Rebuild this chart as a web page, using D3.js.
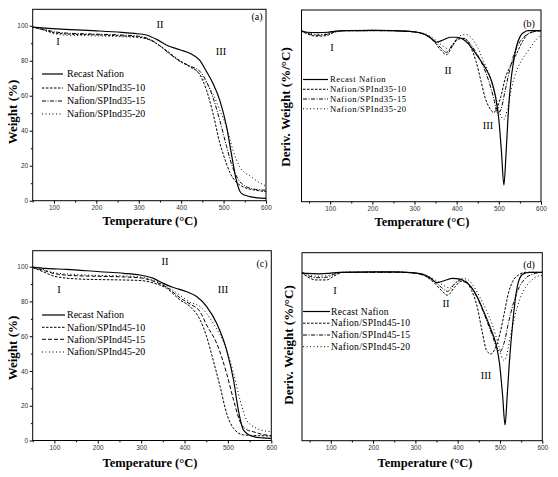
<!DOCTYPE html>
<html>
<head>
<meta charset="utf-8">
<script src="https://cdn.jsdelivr.net/npm/d3@7"></script>
<style>
  body { margin: 0; background: #fff; }
  svg { display: block; }
</style>
</head>
<body>
<script>
// ===== Dados =====
const xTicks = [100, 200, 300, 400, 500, 600];
const xMinor = [50, 150, 250, 350, 450, 550];
const wTicks = [0, 20, 40, 60, 80, 100];
const wMinor = [10, 30, 50, 70, 90];

const namesA = ["Recast Nafion", "Nafion/SPInd35-10", "Nafion/SPInd35-15", "Nafion/SPInd35-20"];
const namesC = ["Recast Nafion", "Nafion/SPInd45-10", "Nafion/SPInd45-15", "Nafion/SPInd45-20"];
const regions = ["I", "II", "III"];

// TGA, SPInd35 (temperatura, peso %)
const tgaA_recast = [[50,99.2],[80,98.6],[130,97.9],[208,97],[260,96.2],[290,95.6],[318,94.7],[342,92.2],[365,89],[397,86.3],[424,83.8],[444,80.2],[460,73.7],[475,67],[491,57.5],[507,42.3],[519,26],[530,11.8],[542,4.2],[562,2.3],[580,1.6],[600,1.3]];
const tgaA_10 = [[50,99.2],[75,97.8],[100,96],[130,95.3],[200,94.8],[250,94.3],[300,93.5],[330,91.5],[350,88.5],[370,85],[397,80],[420,76.8],[444,72],[460,63],[475,50],[491,33],[500,26],[507,21],[515,16],[522,13],[535,9.5],[550,7.5],[575,6],[600,5.2]];
const tgaA_15 = [[50,99.2],[75,98],[100,96.6],[130,95.8],[200,95.2],[250,94.8],[300,94],[330,91.8],[350,88.5],[370,84.5],[397,79.8],[420,77],[444,74],[460,68],[475,59],[491,46],[507,31],[520,20],[535,12],[550,8.5],[575,6.5],[600,6]];
const tgaA_20 = [[50,99.2],[75,97.4],[100,95.5],[130,94.6],[200,94.2],[250,93.8],[300,93.2],[330,91.5],[350,88.5],[370,84.5],[397,79.5],[420,76.5],[444,72.5],[460,67],[475,61],[491,51.8],[507,42],[522,29],[538,19.4],[550,16],[562,14.2],[580,11],[600,8.4]];

// DTG, SPInd35 (temperatura, %/°C)
const dtgB_recast = [[30,0],[45,-0.02],[70,-0.025],[95,-0.02],[115,-0.005],[150,0],[200,0.005],[250,0],[290,-0.01],[315,-0.03],[335,-0.08],[352,-0.15],[368,-0.12],[385,-0.085],[400,-0.085],[415,-0.11],[428,-0.17],[442,-0.27],[456,-0.38],[470,-0.5],[482,-0.64],[492,-0.85],[500,-1.15],[506,-1.55],[512,-2.0],[517,-1.6],[522,-1.1],[528,-0.68],[535,-0.4],[542,-0.2],[550,-0.08],[560,-0.02],[570,0],[600,0]];
const dtgB_10 = [[30,0],[45,-0.04],[65,-0.07],[90,-0.065],[110,-0.02],[130,0],[200,0.005],[250,0],[290,-0.01],[320,-0.04],[345,-0.13],[362,-0.25],[376,-0.31],[390,-0.2],[403,-0.11],[418,-0.1],[432,-0.2],[446,-0.4],[458,-0.66],[468,-0.88],[478,-1.0],[488,-1.06],[497,-0.98],[505,-0.85],[515,-0.62],[528,-0.45],[542,-0.3],[556,-0.14],[570,-0.04],[585,-0.01],[600,0]];
const dtgB_15 = [[30,0],[45,-0.03],[65,-0.06],[90,-0.05],[110,-0.015],[130,0],[250,0],[290,-0.01],[320,-0.04],[345,-0.12],[362,-0.22],[376,-0.28],[390,-0.18],[403,-0.1],[418,-0.1],[432,-0.17],[448,-0.3],[462,-0.45],[476,-0.65],[488,-0.88],[497,-1.07],[505,-1.02],[514,-0.8],[524,-0.55],[535,-0.32],[548,-0.16],[562,-0.07],[578,-0.02],[600,0]];
const dtgB_20 = [[30,0.06],[34,0],[50,-0.03],[70,-0.05],[90,-0.04],[110,-0.01],[130,0],[250,0],[290,-0.01],[325,-0.04],[350,-0.12],[368,-0.2],[382,-0.24],[396,-0.14],[410,-0.06],[422,-0.05],[436,-0.1],[450,-0.22],[464,-0.4],[478,-0.58],[492,-0.85],[503,-1.08],[512,-1.15],[520,-1.02],[530,-0.75],[542,-0.52],[556,-0.37],[572,-0.24],[588,-0.12],[600,-0.05]];

// TGA, SPInd45
const tgaC_recast = [[50,99.8],[80,99],[128,98.5],[205,97.1],[260,96.2],[297,95.2],[328,93.3],[351,90.4],[374,88],[405,85.6],[428,82.8],[451,77],[474,67.4],[497,52],[513,34.8],[524,17.5],[536,6],[559,2.2],[580,1.5],[600,1.2]];
const tgaC_10 = [[50,99.5],[75,97],[100,94.5],[150,93],[200,92.6],[250,92.4],[300,92],[330,90.5],[359,87.5],[390,80.8],[413,77],[436,69.3],[451,59.7],[466,46.3],[482,31],[497,15.6],[513,7],[536,3.2],[570,2.8],[600,2.6]];
const tgaC_15 = [[50,99.6],[80,97.5],[100,96],[150,94.8],[200,94.5],[250,94.2],[300,93.5],[330,91.5],[360,88],[390,82],[413,78.5],[436,74],[451,66.4],[474,56],[497,38.6],[513,23.3],[528,10.8],[545,6],[559,5],[580,3.5],[600,2.8]];
const tgaC_20 = [[50,99.6],[80,98],[100,96.5],[150,95.5],[200,95],[250,94.8],[300,94],[330,92],[360,88.5],[390,83.5],[413,79.5],[436,77],[466,67.4],[497,52],[513,38.6],[528,23.3],[543,11.8],[566,7],[585,5.5],[600,5.1]];

// DTG, SPInd45
const dtgD_recast = [[30,0],[45,-0.015],[70,-0.02],[95,-0.015],[120,0],[200,0.005],[250,0.005],[290,-0.005],[315,-0.02],[335,-0.07],[350,-0.135],[368,-0.11],[388,-0.08],[405,-0.09],[420,-0.13],[433,-0.2],[447,-0.33],[462,-0.52],[478,-0.74],[490,-0.93],[499,-1.2],[506,-1.6],[512,-2.0],[517,-1.62],[522,-1.19],[530,-0.67],[538,-0.28],[545,-0.1],[555,-0.02],[570,0],[600,0]];
const dtgD_10 = [[30,0],[45,-0.06],[65,-0.1],[90,-0.1],[110,-0.04],[130,0],[250,0.005],[290,-0.005],[320,-0.04],[345,-0.14],[362,-0.24],[376,-0.3],[392,-0.2],[408,-0.12],[420,-0.13],[433,-0.24],[446,-0.45],[458,-0.78],[468,-1.02],[478,-1.07],[490,-0.98],[500,-0.8],[510,-0.54],[520,-0.27],[530,-0.12],[545,-0.03],[560,0],[600,0]];
const dtgD_15 = [[30,0],[45,-0.04],[65,-0.07],[90,-0.065],[110,-0.02],[130,0],[250,0],[290,-0.005],[320,-0.04],[345,-0.12],[362,-0.2],[376,-0.25],[392,-0.16],[408,-0.1],[420,-0.12],[435,-0.22],[450,-0.38],[465,-0.58],[480,-0.8],[492,-0.98],[500,-1.04],[510,-0.92],[520,-0.66],[532,-0.4],[545,-0.2],[560,-0.08],[580,-0.02],[600,0]];
const dtgD_20 = [[30,0],[45,-0.03],[65,-0.05],[90,-0.045],[110,-0.015],[130,0],[250,0],[290,-0.005],[325,-0.04],[350,-0.11],[366,-0.17],[380,-0.2],[395,-0.13],[410,-0.08],[422,-0.09],[436,-0.17],[452,-0.32],[468,-0.5],[484,-0.72],[498,-0.98],[508,-1.15],[514,-1.12],[524,-0.85],[535,-0.58],[547,-0.35],[560,-0.2],[575,-0.1],[590,-0.05],[600,-0.04]];

// ===== Desenho =====
const svg = d3.select("body").append("svg").attr("width", 558).attr("height", 477);

const serif = "'Liberation Serif', 'Times New Roman', serif";
const sans = "'Liberation Sans', Arial, sans-serif";

const panels = [
  { id: "a", left: 32.7, right: 266, top: 9.3, bottom: 200.7, xDomain: [50, 600], yDomain: [0, 109.4], weight: true,
    data: [tgaA_recast, tgaA_10, tgaA_15, tgaA_20], names: namesA,
    dashes: [null, "2.5,1.5", "4,1.5,1,1.5", "1,2.5"],
    leg: { x1: 42, x2: 63, tx: 67, rows: [74, 88, 101, 114], fs: 10, ls: 0 },
    tag: [257, 16], reg: [[58, 41], [160, 24], [221, 51]],
    xTitle: [150, 225], yTitle: [12, 112], yLabel: "Weight (%)" },
  { id: "b", left: 301.5, right: 541, top: 10, bottom: 201.7, xDomain: [32, 600], yDomain: [-2.215, 0.268], weight: false,
    data: [dtgB_recast, dtgB_10, dtgB_15, dtgB_20], names: namesA,
    dashes: [null, "2.5,1.5", "4,1.5,1,1.5", "1,2.5"],
    leg: { x1: 303, x2: 328, tx: 330, rows: [79.5, 89.3, 99, 108.8], fs: 8.6, ls: 0.55 },
    tag: [529, 23], reg: [[332, 47], [448, 70], [488, 125]],
    xTitle: [422, 226], yTitle: [285, 107], yLabel: "Deriv. Weight (%/°C)" },
  { id: "c", left: 32.7, right: 271.3, top: 250.7, bottom: 440.5, xDomain: [50, 600], yDomain: [0, 109.2], weight: true,
    data: [tgaC_recast, tgaC_10, tgaC_15, tgaC_20], names: namesC,
    dashes: [null, "2.5,1.5", "4,2", "1,2.5"],
    leg: { x1: 42, x2: 65, tx: 67, rows: [315, 327.3, 339.3, 352], fs: 10, ls: 0 },
    tag: [262, 263], reg: [[59, 289], [165, 261], [223, 289]],
    xTitle: [150, 467], yTitle: [12, 348], yLabel: "Weight (%)" },
  { id: "d", left: 302, right: 542.3, top: 252.7, bottom: 440.7, xDomain: [32, 600], yDomain: [-2.206, 0.257], weight: false,
    data: [dtgD_recast, dtgD_10, dtgD_15, dtgD_20], names: namesC,
    dashes: [null, "2.5,1.5", "4,1.5,1,1.5", "1,2.5"],
    leg: { x1: 303, x2: 330, tx: 331, rows: [311.5, 323.2, 335, 346.7], fs: 9.6, ls: 0.25 },
    tag: [529, 264], reg: [[335, 290], [446, 303], [486, 375]],
    xTitle: [425, 467], yTitle: [288, 345], yLabel: "Deriv. Weight (%/°C)" }
];

panels.forEach(p => {
  const x = d3.scaleLinear().domain(p.xDomain).range([p.left, p.right]);
  const y = d3.scaleLinear().domain(p.yDomain).range([p.bottom, p.top]);
  const g = svg.append("g");

  g.append("clipPath").attr("id", "clip-" + p.id)
    .append("rect")
    .attr("x", p.left).attr("y", p.top)
    .attr("width", p.right - p.left).attr("height", p.bottom - p.top);

  const line = d3.line()
    .x(d => x(d[0]))
    .y(d => y(d[1]))
    .curve(d3.curveMonotoneX);

  g.append("g").attr("clip-path", `url(#clip-${p.id})`)
    .selectAll("path")
    .data(p.data)
    .join("path")
    .attr("d", line)
    .attr("fill", "none")
    .attr("stroke", "#000")
    .attr("stroke-width", (d, i) => i === 0 ? 1.2 : 1)
    .attr("stroke-dasharray", (d, i) => p.dashes[i]);

  // moldura
  g.append("rect")
    .attr("x", p.left).attr("y", p.top)
    .attr("width", p.right - p.left).attr("height", p.bottom - p.top)
    .attr("fill", "none").attr("stroke", "#000").attr("stroke-width", 1);

  // eixo x
  const xAxis = g.append("g")
    .attr("transform", `translate(0,${p.bottom})`)
    .call(d3.axisBottom(x).tickValues(xTicks).tickSize(3).tickSizeOuter(0).tickPadding(1.5));
  xAxis.select(".domain").remove();
  xAxis.selectAll("text").attr("font-family", sans).attr("font-size", 6.5).attr("fill", "#333");
  g.append("g")
    .attr("transform", `translate(0,${p.bottom})`)
    .call(d3.axisBottom(x).tickValues(xMinor.filter(v => v >= p.xDomain[0])).tickSize(1.8).tickFormat(""))
    .select(".domain").remove();

  // eixo y (só para o peso)
  if (p.weight) {
    const yAxis = g.append("g")
      .attr("transform", `translate(${p.left},0)`)
      .call(d3.axisLeft(y).tickValues(wTicks).tickSize(3).tickSizeOuter(0).tickPadding(1.5));
    yAxis.select(".domain").remove();
    yAxis.selectAll("text").attr("font-family", sans).attr("font-size", 6.5).attr("fill", "#333");
    g.append("g")
      .attr("transform", `translate(${p.left},0)`)
      .call(d3.axisLeft(y).tickValues(wMinor).tickSize(1.8).tickFormat(""))
      .select(".domain").remove();
  }

  // legenda
  p.names.forEach((name, i) => {
    const ry = p.leg.rows[i];
    g.append("line")
      .attr("x1", p.leg.x1).attr("x2", p.leg.x2)
      .attr("y1", ry).attr("y2", ry)
      .attr("stroke", "#000")
      .attr("stroke-width", i === 0 ? 1.2 : 1)
      .attr("stroke-dasharray", p.dashes[i]);
    g.append("text")
      .attr("x", p.leg.tx).attr("y", ry + p.leg.fs * 0.33)
      .attr("font-family", serif).attr("font-size", p.leg.fs)
      .attr("letter-spacing", p.leg.ls)
      .text(name);
  });

  // rótulos das etapas
  g.append("text")
    .attr("x", p.tag[0]).attr("y", p.tag[1] + 3.5)
    .attr("text-anchor", "middle")
    .attr("font-family", serif).attr("font-size", 10)
    .text(`(${p.id})`);
  regions.forEach((r, i) => {
    g.append("text")
      .attr("x", p.reg[i][0]).attr("y", p.reg[i][1] + 3.5)
      .attr("text-anchor", "middle")
      .attr("font-family", serif).attr("font-size", 10.5)
      .text(r);
  });

  // títulos
  g.append("text")
    .attr("x", p.xTitle[0]).attr("y", p.xTitle[1])
    .attr("text-anchor", "middle")
    .attr("font-family", serif).attr("font-weight", "bold").attr("font-size", 12.5)
    .text("Temperature (°C)");
  g.append("text")
    .attr("transform", `translate(${p.yTitle[0] + 4.5},${p.yTitle[1]}) rotate(-90)`)
    .attr("text-anchor", "middle")
    .attr("font-family", serif).attr("font-weight", "bold").attr("font-size", 13)
    .text(p.yLabel);
});
</script>
</body>
</html>
